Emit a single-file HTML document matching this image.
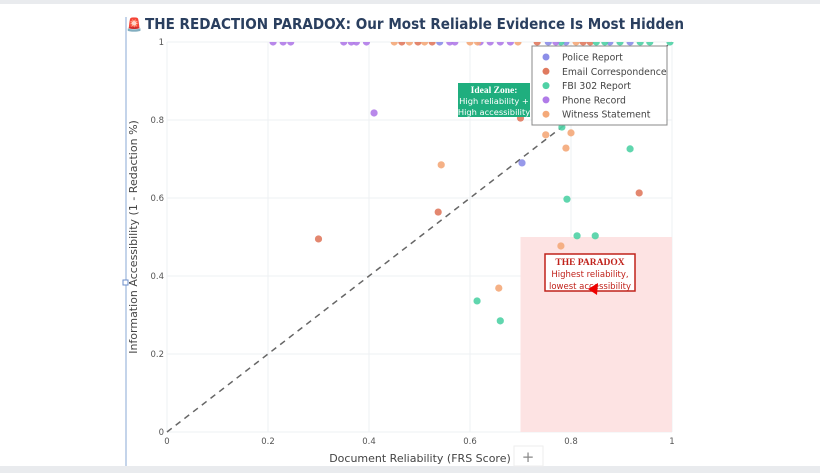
<!DOCTYPE html>
<html><head><meta charset="utf-8">
<style>
html,body{margin:0;padding:0;background:#fff;}
body{width:820px;height:473px;overflow:hidden;position:relative;font-family:"DejaVu Sans","Liberation Sans",sans-serif;}
</style></head>
<body>
<div style="position:absolute;left:0;top:0;width:820px;height:4px;background:#e9ebee"></div>
<div style="position:absolute;left:0;top:466px;width:820px;height:7px;background:#e9ebee"></div>
<svg id="chart" width="820" height="466" style="position:absolute;left:0;top:4px" viewBox="0 4 820 466">
<line x1="126" y1="17" x2="126" y2="466" stroke="#8aa9d6" stroke-width="1"/>
<text x="126" y="29" font-size="13" fill="#c0221b">🚨</text>
<text x="145" y="29" font-size="15" font-weight="bold" fill="#2a3f5f" textLength="539" lengthAdjust="spacingAndGlyphs">THE REDACTION PARADOX: Our Most Reliable Evidence Is Most Hidden</text>
<g id="grid"></g>
<g id="zones"></g>
<g id="marks"></g>
<g id="ann"></g>
<text x="420" y="462" font-size="11" text-anchor="middle" fill="#444">Document Reliability (FRS Score)</text>
<rect x="514" y="446" width="29" height="20" fill="#fff" stroke="#eee"/>
<text x="528" y="462" font-size="15" text-anchor="middle" fill="#888">+</text>
<text transform="translate(137,237) rotate(-90)" font-size="11" text-anchor="middle" fill="#444">Information Accessibility (1 - Redaction %)</text>
<rect x="123" y="280" width="5" height="5" fill="#fff" stroke="#6b8ec9"/>
</svg>
<script>
const xTicks=[0,0.2,0.4,0.6,0.8,1];
const yTicks=[0,0.2,0.4,0.6,0.8,1];
const tickLabels=["0","0.2","0.4","0.6","0.8","1"];
const seriesNames=["Police Report","Email Correspondence","FBI 302 Report","Phone Record","Witness Statement"];
const seriesColors=["#8c8ee8","#e07a5f","#4fd1a5","#b07be8","#f4a979"];
const policeX=[0.703,0.926,0.54,0.755,0.79,0.877,0.917];
const policeY=[0.69,0.859,1,1,1,1,1];
const emailX=[0.30,0.537,0.935,0.70,0.465,0.497,0.525,0.733,0.824,0.838];
const emailY=[0.495,0.564,0.613,0.805,1,1,1,1,1,1];
const fbiX=[0.614,0.66,0.792,0.812,0.848,0.917,0.782,0.78,0.85,0.867,0.897,0.937,0.956,0.996];
const fbiY=[0.336,0.285,0.597,0.503,0.503,0.726,0.782,1,1,1,1,1,1,1];
const phoneX=[0.41,0.21,0.23,0.245,0.35,0.365,0.375,0.395,0.56,0.57,0.62,0.64,0.66,0.68,0.77];
const phoneY=[0.818,1,1,1,1,1,1,1,1,1,1,1,1,1,1];
const witnessX=[0.543,0.657,0.75,0.79,0.80,0.78,0.45,0.48,0.51,0.60,0.615,0.695,0.81];
const witnessY=[0.685,0.369,0.762,0.728,0.767,0.477,1,1,1,1,1,1,1];
const seriesX=[policeX,emailX,fbiX,phoneX,witnessX];
const seriesY=[policeY,emailY,fbiY,phoneY,witnessY];
const diagX=[0,1],diagY=[0,1];
const paradoxX=[0.7,1],paradoxY=[0,0.5];

const NS="http://www.w3.org/2000/svg";
const X0=167,X1=672,Y0=432,Y1=42;
const sx=v=>X0+v*(X1-X0);
const sy=v=>Y0-v*(Y0-Y1);
function mk(tag,attrs,parent){const e=document.createElementNS(NS,tag);for(const k in attrs)e.setAttribute(k,attrs[k]);parent.appendChild(e);return e;}
const grid=document.getElementById('grid');
xTicks.forEach((t,i)=>{
  const l=mk('line',{x1:sx(t),x2:sx(t),y1:Y1,y2:Y0,stroke:'#eef0f3'},grid);
  
  
  const tx=mk('text',{x:sx(t),y:Y0+12,'font-size':8.5,'text-anchor':'middle',fill:'#555'},grid);
  tx.textContent=tickLabels[i];
  
  
});
yTicks.forEach((t,i)=>{
  const l=mk('line',{x1:X0,x2:X1,y1:sy(t),y2:sy(t),stroke:'#eef0f3'},grid);
  
  
  const tx=mk('text',{x:X0-3,y:sy(t)+3,'font-size':8.5,'text-anchor':'end',fill:'#555'},grid);
  tx.textContent=tickLabels[i];
  
  
});
const zones=document.getElementById('zones');
const pz=mk('rect',{x:sx(paradoxX[0]),y:sy(paradoxY[1]),width:sx(paradoxX[1])-sx(paradoxX[0]),height:sy(paradoxY[0])-sy(paradoxY[1]),fill:'#fde3e3'},zones);


const dl=mk('line',{x1:sx(diagX[0]),y1:sy(diagY[0]),x2:sx(diagX[1]),y2:sy(diagY[1]),stroke:'#666','stroke-width':1.5,'stroke-dasharray':'6,5'},zones);


const marks=document.getElementById('marks');
const clip=mk('clipPath',{id:'pc'},marks);mk('rect',{x:X0-6,y:Y1,width:X1-X0+12,height:Y0-Y1+6},clip);
const mg=mk('g',{'clip-path':'url(#pc)'},marks);
seriesX.forEach((xs,s)=>{
  xs.forEach((v,i)=>{
    const c=mk('circle',{cx:sx(v),cy:sy(seriesY[s][i]),r:3.6,fill:seriesColors[s],opacity:0.9},mg);
    
    
  });
});
const ann=document.getElementById('ann');
const ig=mk('g',{},ann);


mk('rect',{x:458,y:83,width:72,height:34,fill:'#1fae7e'},ig);
[["Ideal Zone:",93,'bold'],["High reliability +",104,'normal'],["High accessibility",115,'normal']].forEach(a=>{
  const t=mk('text',{x:494,y:a[1],'font-size':a[2]=='bold'?9.5:8.3,'text-anchor':'middle',fill:'#fff','font-weight':a[2],'font-family':a[2]=='bold'?'Liberation Serif,serif':'DejaVu Sans,sans-serif'},ig);t.textContent=a[0];});
const pg=mk('g',{},ann);


mk('rect',{x:545,y:254,width:90,height:37,fill:'#fff',stroke:'#c0221b','stroke-width':1.5},pg);
[["THE PARADOX",265,'bold'],["Highest reliability,",277,'normal'],["lowest accessibility",289,'normal']].forEach(a=>{
  const t=mk('text',{x:590,y:a[1],'font-size':a[2]=='bold'?9.5:8.5,'text-anchor':'middle',fill:'#c0221b','font-weight':a[2],'font-family':a[2]=='bold'?'Liberation Serif,serif':'DejaVu Sans,sans-serif'},pg);t.textContent=a[0];});
mk('polygon',{points:'588,289 598,283 597,295',fill:'#e00'},pg);
const lg=mk('g',{},ann);


mk('rect',{x:532,y:46,width:135,height:79,fill:'#fff',stroke:'#888'},lg);
seriesNames.forEach((n,i)=>{
  const y=57+i*14.3;
  const e=mk('g',{},lg);
  
  
  mk('circle',{cx:546,cy:y,r:3.5,fill:seriesColors[i]},e);
  const t=mk('text',{x:562,y:y+3.5,'font-size':9.3,fill:'#444'},e);t.textContent=n;
});
</script>
</body></html>
